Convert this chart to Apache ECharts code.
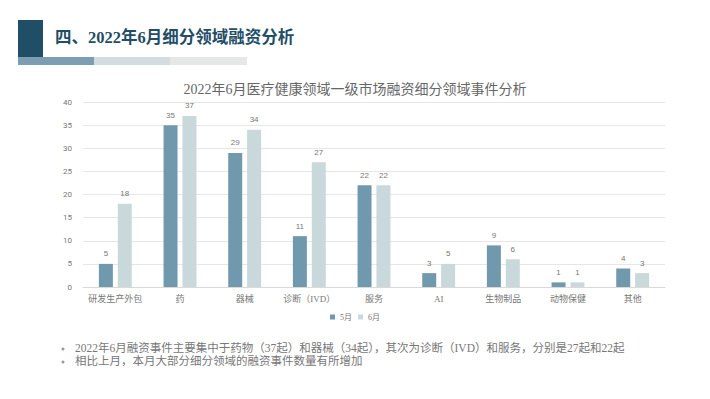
<!DOCTYPE html>
<html>
<head>
<meta charset="utf-8">
<script src="https://cdn.jsdelivr.net/npm/echarts@6/dist/echarts.min.js"></script>
<style>
  html, body { margin: 0; padding: 0; background: #fff; }
  #main { width: 710px; height: 399px; }
</style>
</head>
<body>
<div id="main"></div>
<script>
// 数据
var categories = ['研发生产外包', '药', '器械', '诊断（IVD）', '服务', 'AI', '生物制品', '动物保健', '其他'];
var may = [5, 35, 29, 11, 22, 3, 9, 1, 4];
var june = [18, 37, 34, 27, 22, 5, 6, 1, 3];
var seriesNames = ['5月', '6月'];
var notes = [
    '2022年6月融资事件主要集中于药物（37起）和器械（34起），其次为诊断（IVD）和服务，分别是27起和22起',
    '相比上月，本月大部分细分领域的融资事件数量有所增加'
];

var fontCn = "'Liberation Serif', 'Noto Sans CJK SC', serif";

var myChart = echarts.init(document.getElementById('main'), null, { renderer: 'svg' });

var option = {
    animation: false,
    color: ['#7199ae', '#c9d8da'],
    title: {
        text: '2022年6月医疗健康领域一级市场融资细分领域事件分析',
        left: 'center',
        top: 77,
        textStyle: { fontFamily: fontCn, fontSize: 14, fontWeight: 'normal', color: '#666' }
    },
    legend: {
        data: seriesNames,
        bottom: 73,
        left: 'center',
        itemWidth: 5,
        itemHeight: 5,
        itemGap: 6,
        icon: 'rect',
        textStyle: { fontFamily: fontCn, fontSize: 8, color: '#777' }
    },
    grid: {
        top: 102,
        left: 83,
        right: 45,
        bottom: 112
    },
    xAxis: {
        type: 'category',
        data: categories,
        axisTick: { show: false },
        axisLine: { lineStyle: { color: '#d9d9d9' } },
        axisLabel: { interval: 0, fontFamily: fontCn, fontSize: 9, color: '#777', margin: 7 }
    },
    yAxis: {
        type: 'value',
        min: 0,
        max: 40,
        interval: 5,
        axisLabel: { fontFamily: 'Roboto, sans-serif', fontSize: 8, color: '#777', margin: 11 },
        splitLine: { lineStyle: { color: '#e6e6e6' } }
    },
    series: [
        {
            name: seriesNames[0],
            type: 'bar',
            barWidth: 14,
            barGap: '35%',
            label: { show: true, position: 'top', fontSize: 8, color: '#777', distance: 6 },
            data: may
        },
        {
            name: seriesNames[1],
            type: 'bar',
            barWidth: 14,
            label: { show: true, position: 'top', fontSize: 8, color: '#777', distance: 6 },
            data: june
        }
    ],
    graphic: [
        { type: 'rect', shape: { x: 18, y: 20, width: 25, height: 38 }, style: { fill: '#1f4e66' } },
        { type: 'rect', shape: { x: 18, y: 57, width: 76, height: 8 }, style: { fill: '#7b9eb1' } },
        { type: 'rect', shape: { x: 94, y: 57, width: 76, height: 8 }, style: { fill: '#d3dde1' } },
        { type: 'rect', shape: { x: 170, y: 57, width: 77, height: 8 }, style: { fill: '#e6e8e8' } },
        {
            type: 'text', left: 55, top: 29,
            style: { text: '四、2022年6月细分领域融资分析', fontFamily: fontCn, fontSize: 16.5, fontWeight: 'bold', fill: '#1f4e66' }
        },
        { type: 'circle', shape: { cx: 63, cy: 349, r: 1.5 }, style: { fill: '#999' } },
        { type: 'circle', shape: { cx: 63, cy: 362, r: 1.5 }, style: { fill: '#999' } },
        {
            type: 'text', left: 75, top: 342,
            style: { text: notes[0], fontFamily: fontCn, fontSize: 11.5, fill: '#777' }
        },
        {
            type: 'text', left: 75, top: 355,
            style: { text: notes[1], fontFamily: fontCn, fontSize: 11.5, fill: '#777' }
        }
    ]
};

myChart.setOption(option);
</script>
</body>
</html>
